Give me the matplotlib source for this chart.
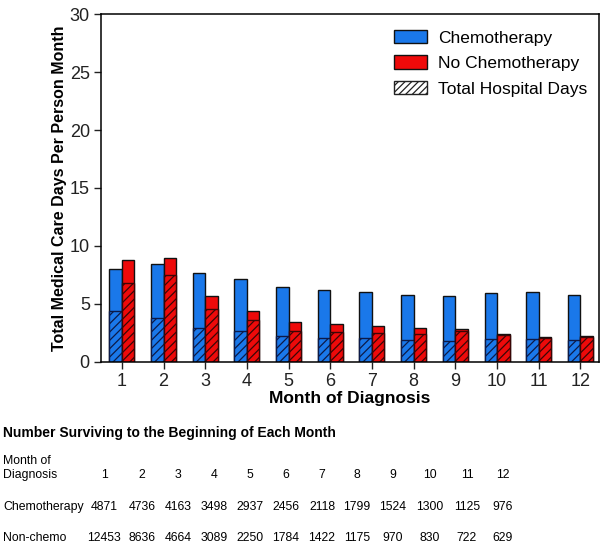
import matplotlib
matplotlib.use("Agg")
import matplotlib.pyplot as plt
from matplotlib.patches import Patch

months = list(range(1, 13))
chemo_total = [8.05, 8.42, 7.65, 7.13, 6.44, 6.18, 6.03, 5.81, 5.69, 5.92, 6.07, 5.78]
chemo_hosp = [4.37, 3.83, 2.96, 2.65, 2.24, 2.10, 2.10, 1.93, 1.78, 1.99, 2.01, 1.87]
nochemo_total = [8.77, 8.97, 5.69, 4.43, 3.42, 3.31, 3.08, 2.97, 2.82, 2.39, 2.13, 2.21]
nochemo_hosp = [6.81, 7.53, 4.60, 3.60, 2.65, 2.59, 2.50, 2.45, 2.68, 2.33, 2.10, 2.13]

surv_chemo = [4871, 4736, 4163, 3498, 2937, 2456, 2118, 1799, 1524, 1300, 1125, 976]
surv_nonchemo = [12453, 8636, 4664, 3089, 2250, 1784, 1422, 1175, 970, 830, 722, 629]

BLUE = "#1a78ea"
RED = "#ee0a0a"

plt.rcParams["font.family"] = ["Liberation Sans", "DejaVu Sans"]
plt.rcParams["hatch.linewidth"] = 0.9

fig = plt.figure(figsize=(6.01, 5.54), dpi=100)
ax = fig.add_axes([0.168, 0.3466, 0.829, 0.6281])

w = 0.3
xc = [m - w / 2 for m in months]
xn = [m + w / 2 for m in months]
ax.bar(xc, chemo_total, width=w, color=BLUE, edgecolor="#111111", linewidth=1.0)
ax.bar(xc, chemo_hosp, width=w, color=BLUE, edgecolor="#0c1a48", hatch="////", linewidth=1.0)
ax.bar(xn, nochemo_total, width=w, color=RED, edgecolor="#111111", linewidth=1.0)
ax.bar(xn, nochemo_hosp, width=w, color=RED, edgecolor="#3a0606", hatch="////", linewidth=1.0)

ax.set_xlim(0.5, 12.45)
ax.set_ylim(0, 30)
ax.set_xticks(months)
ax.set_yticks(range(0, 31, 5))
ax.tick_params(labelsize=13, colors="#222222", length=5, width=1, pad=3)
for s in ax.spines.values():
    s.set_linewidth(1.1)
ax.set_ylabel("Total Medical Care Days Per Person Month", fontsize=11.5,
              fontweight="bold", labelpad=2)
ax.set_xlabel("Month of Diagnosis", fontsize=12.5, fontweight="bold", labelpad=1)

handles = [Patch(facecolor=BLUE, edgecolor="#111111"),
           Patch(facecolor=RED, edgecolor="#111111"),
           Patch(facecolor="white", edgecolor="#222222", hatch="/////")]
ax.legend(handles, ["Chemotherapy", "No Chemotherapy", "Total Hospital Days"],
          loc="upper right", bbox_to_anchor=(1.0, 0.99), frameon=False,
          fontsize=12.5, handlelength=1.9, handleheight=0.85, labelspacing=0.55,
          handletextpad=0.6, borderaxespad=0.3)

# table of number surviving
fig.text(0.005, 1 - 433 / 554, "Number Surviving to the Beginning of Each Month",
         fontsize=10, fontweight="bold", va="center", ha="left")
fig.text(0.005, 1 - 468 / 554, "Month of\nDiagnosis", fontsize=8.8, va="center",
         ha="left", linespacing=1.15)
fig.text(0.005, 1 - 507 / 554, "Chemotherapy", fontsize=8.8, va="center", ha="left")
fig.text(0.005, 1 - 538 / 554, "Non-chemo", fontsize=8.8, va="center", ha="left")
col_x = [104, 142, 178, 214, 250, 286, 322, 357, 393, 430, 467, 503]
for i, m in enumerate(months):
    x = col_x[i] / 601
    fig.text(x, 1 - 475 / 554, str(m), fontsize=8.8, ha="center", va="center")
    fig.text(x, 1 - 507 / 554, str(surv_chemo[i]), fontsize=8.8, ha="center", va="center")
    fig.text(x, 1 - 538 / 554, str(surv_nonchemo[i]), fontsize=8.8, ha="center", va="center")

fig.savefig("out.png", dpi=100)
